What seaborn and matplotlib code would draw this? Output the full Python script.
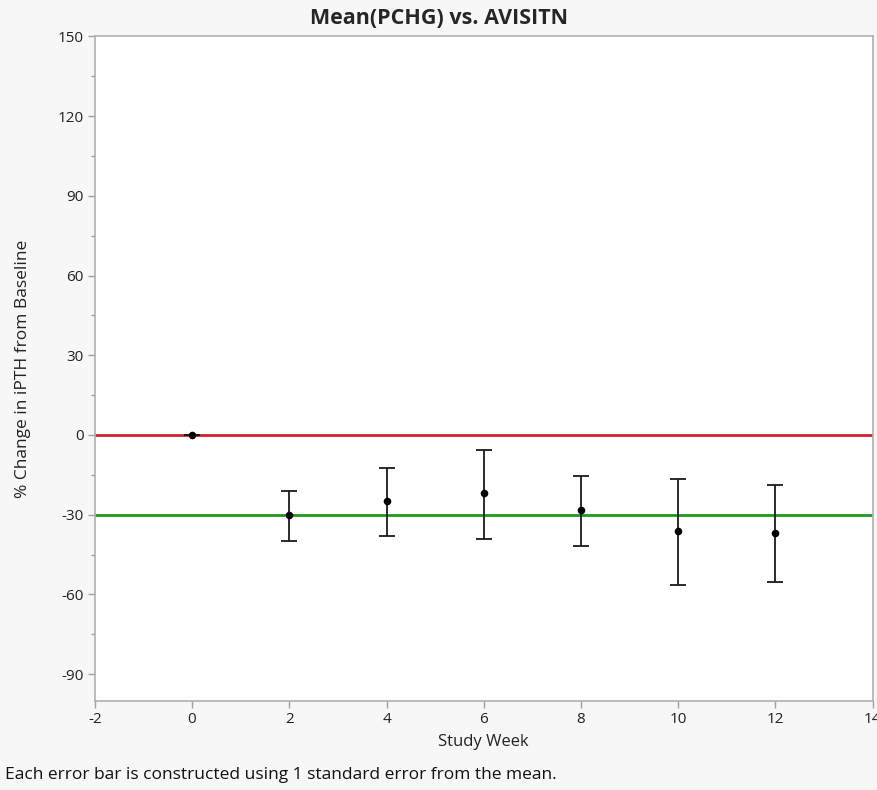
import numpy as np
import pandas as pd
import matplotlib
matplotlib.use("Agg")
import matplotlib.pyplot as plt
import seaborn as sns
from matplotlib.ticker import MultipleLocator

# values
weeks = [0, 2, 4, 6, 8, 10, 12]
mean_pchg = [0.0, -30.0, -24.9, -22.0, -28.2, -36.2, -36.9]
upper = [0.0, -20.9, -12.5, -5.7, -15.5, -16.6, -19.0]
lower = [0.0, -39.9, -38.1, -39.2, -41.7, -56.5, -55.4]
ref_lines = [0, -30]
ref_colors = ["#d1202f", "#1e9a1e"]

df = pd.DataFrame({"week": weeks, "mean": mean_pchg, "upper": upper, "lower": lower})

sns.set_style("white")
plt.rcParams["font.family"] = ["Open Sans", "DejaVu Sans"]
plt.rcParams["axes.unicode_minus"] = False

fig = plt.figure(figsize=(8.78, 7.9), dpi=100, facecolor="#f7f7f7")
ax = fig.add_axes([0.108, 0.113, 0.886, 0.841])
ax.set_facecolor("white")

for val, col in zip(ref_lines, ref_colors):
    ax.axhline(val, color=col, lw=2.0, zorder=1)

err = np.vstack([df["mean"] - df["lower"], df["upper"] - df["mean"]])
ax.errorbar(df["week"], df["mean"], yerr=err, fmt="none", ecolor="#1a1a1a",
            elinewidth=1.3, capsize=6, capthick=1.3, zorder=2)
sns.scatterplot(data=df, x="week", y="mean", ax=ax, color="black", s=30,
                edgecolor="black", linewidth=0, zorder=3)

ax.set_xlim(-2, 14)
ax.set_ylim(-100, 150)
ax.xaxis.set_major_locator(MultipleLocator(2))
ax.yaxis.set_major_locator(MultipleLocator(30))
ax.yaxis.set_minor_locator(MultipleLocator(15))
ax.tick_params(axis="both", which="major", direction="out", length=5, width=1,
               color="#a0a0a0", labelsize=11, labelcolor="#222222", pad=3)
ax.tick_params(axis="y", which="minor", direction="out", length=3, width=1, color="#a0a0a0")
ax.tick_params(left=True, bottom=True, which="both")
ax.tick_params(axis="x", which="minor", length=0)

for sp in ax.spines.values():
    sp.set_color("#b0b0b0")
    sp.set_linewidth(1.2)

ax.set_xlabel("Study Week", fontsize=12, color="#222222", labelpad=5)
ax.set_ylabel("% Change in iPTH from Baseline", fontsize=12.5, color="#222222", labelpad=19)
# JMP centres the title on the whole window, not on the frame
fig.text(0.5, 1 - 19 / 790, "Mean(PCHG) vs. AVISITN", fontsize=15.5, fontweight="bold",
         ha="center", va="center")

fig.text(0.006, 0.019, "Each error bar is constructed using 1 standard error from the mean.",
         fontsize=12.5, color="#111111", ha="left", va="center")

fig.savefig("out.png", dpi=100, facecolor=fig.get_facecolor())
